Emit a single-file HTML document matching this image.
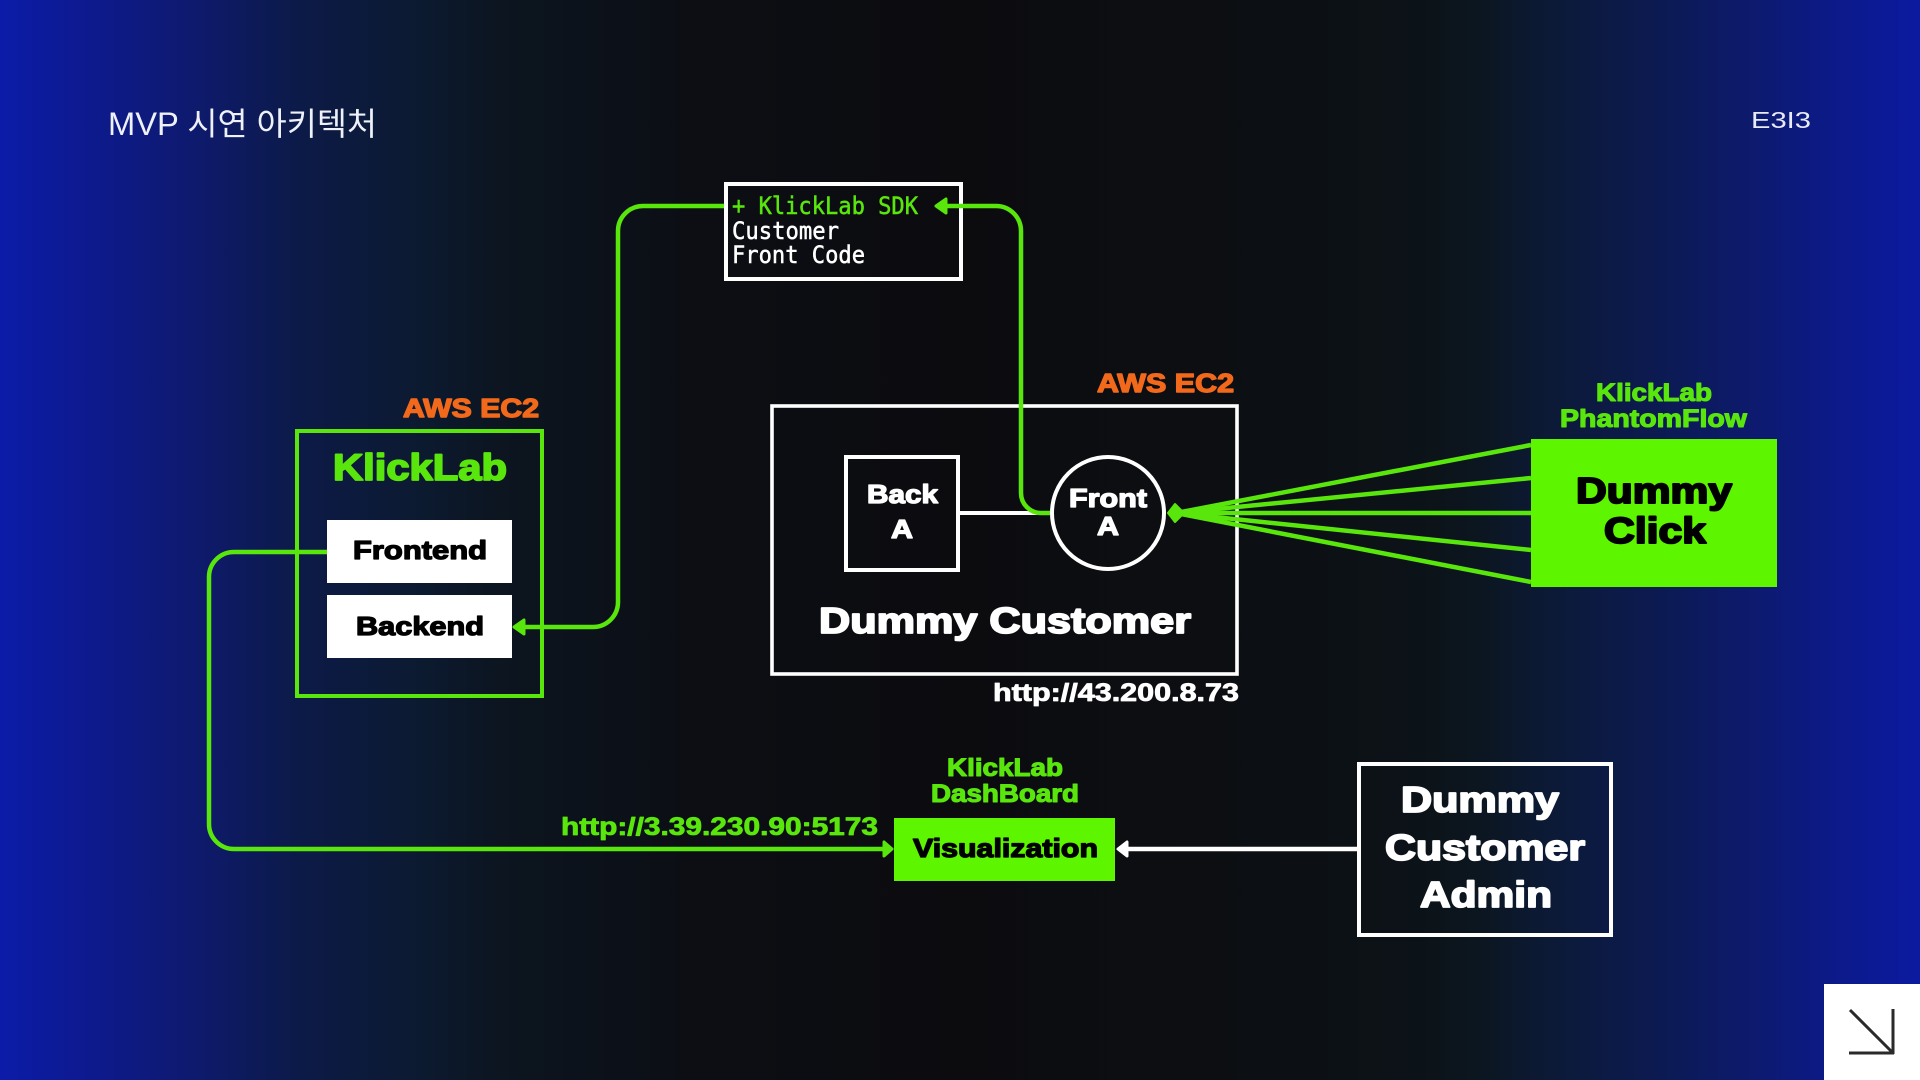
<!DOCTYPE html>
<html lang="ko">
<head>
<meta charset="utf-8">
<title>MVP 시연 아키텍처</title>
<style>
html,body{margin:0;padding:0;width:1920px;height:1080px;overflow:hidden;background:#0c0d10}
svg{display:block;position:absolute;left:0;top:0}
.b{font-family:"Liberation Sans","Noto Sans CJK KR",sans-serif;font-weight:700;stroke-linejoin:round}
.g{fill:#59e60c;stroke:#59e60c}
.w{fill:#fff;stroke:#fff}
.k{fill:#000;stroke:#000}
.o{fill:#f2691c;stroke:#f2691c}
.m{font-family:"DejaVu Sans Mono","Liberation Mono",monospace;font-size:24px;stroke-width:.5}
</style>
</head>
<body>
<svg width="1920" height="1080" viewBox="0 0 1920 1080" xmlns="http://www.w3.org/2000/svg">
<defs>
<linearGradient id="bg" x1="0" y1="0" x2="1" y2="0">
<stop offset="0" stop-color="#0c1ca8"/>
<stop offset="0.05" stop-color="#0d1a8c"/>
<stop offset="0.1" stop-color="#0e1a6e"/>
<stop offset="0.156" stop-color="#0c1a48"/>
<stop offset="0.22" stop-color="#0c1a30"/>
<stop offset="0.26" stop-color="#0c1520"/>
<stop offset="0.36" stop-color="#0c0e14"/>
<stop offset="0.5" stop-color="#0c0c0f"/>
<stop offset="0.66" stop-color="#0c0f13"/>
<stop offset="0.74" stop-color="#0c1318"/>
<stop offset="0.77" stop-color="#0c1620"/>
<stop offset="0.81" stop-color="#0c1a38"/>
<stop offset="0.86" stop-color="#0c1a50"/>
<stop offset="0.91" stop-color="#0d1a6c"/>
<stop offset="0.96" stop-color="#0c1a8c"/>
<stop offset="1" stop-color="#0c1aa0"/>
</linearGradient>
</defs>
<rect width="1920" height="1080" fill="url(#bg)"/>

<text x="108" y="135" font-family="'Liberation Sans','Noto Sans CJK KR',sans-serif" font-size="32" fill="#eef0fa" textLength="269" lengthAdjust="spacingAndGlyphs">MVP 시연 아키텍처</text>
<text x="1751" y="128" font-family="'Liberation Sans',sans-serif" font-size="23" fill="#e8eaf6" textLength="60" lengthAdjust="spacingAndGlyphs">E3I3</text>

<!-- corner -->
<rect x="1824" y="984" width="96" height="96" fill="#fff"/>
<path d="M1850 1010L1892 1052M1893 1009V1054M1849 1053H1894" stroke="#2a2a2a" stroke-width="3" fill="none"/>

<!-- KlickLab box -->
<rect x="297" y="431" width="245" height="265" fill="none" stroke="#59e60c" stroke-width="4"/>
<rect x="327" y="520" width="185" height="63" fill="#fff"/>
<rect x="327" y="595" width="185" height="63" fill="#fff"/>

<!-- connectors green -->
<g fill="none" stroke="#59e60c" stroke-width="4.5">
<path d="M327 552H234A25 25 0 0 0 209 577V824A25 25 0 0 0 234 849H886"/>
<path d="M520 627H593A25 25 0 0 0 618 602V231A25 25 0 0 1 643 206H724"/>
</g>
<path d="M514 627L524 620V634Z" fill="#59e60c" stroke="#59e60c" stroke-width="3" stroke-linejoin="round"/>
<path d="M892 849L884 842V856Z" fill="#59e60c" stroke="#59e60c" stroke-width="3" stroke-linejoin="round"/>

<!-- SDK box -->
<rect x="726" y="184" width="235" height="95" fill="none" stroke="#fff" stroke-width="4"/>
<text x="732" y="214" class="m" fill="#59e60c" stroke="#59e60c" textLength="186" lengthAdjust="spacingAndGlyphs">+ KlickLab SDK</text>
<text x="732" y="239" class="m" fill="#fff" stroke="#fff" textLength="107" lengthAdjust="spacingAndGlyphs">Customer</text>
<text x="732" y="263" class="m" fill="#fff" stroke="#fff" textLength="133" lengthAdjust="spacingAndGlyphs">Front Code</text>

<!-- Dummy customer -->
<rect x="772" y="406" width="465" height="268" fill="none" stroke="#fff" stroke-width="3.6"/>
<rect x="846" y="457" width="112" height="113" fill="none" stroke="#fff" stroke-width="4"/>
<circle cx="1108" cy="513" r="56" fill="none" stroke="#fff" stroke-width="4"/>
<path d="M960 513H1040" stroke="#fff" stroke-width="4" fill="none"/>
<path d="M1050 513H1041A20 20 0 0 1 1021 493V231A25 25 0 0 0 996 206H942" fill="none" stroke="#59e60c" stroke-width="4.5"/>
<path d="M936 206L946 199V213Z" fill="#59e60c" stroke="#59e60c" stroke-width="3" stroke-linejoin="round"/>

<!-- Fan -->
<g stroke="#59e60c" stroke-width="4.5" fill="none">
<path d="M1176 513L1531 445"/>
<path d="M1176 513L1531 478"/>
<path d="M1176 513H1531"/>
<path d="M1176 513L1531 550"/>
<path d="M1176 513L1531 582"/>
</g>
<path d="M1168 513L1175 504L1184 513L1175 522Z" fill="#59e60c" stroke="#59e60c" stroke-width="2" stroke-linejoin="round"/>
<rect x="1531" y="439" width="246" height="148" fill="#5df500"/>

<!-- Dashboard -->
<rect x="894" y="818" width="221" height="63" fill="#5df500"/>
<rect x="1359" y="764" width="252" height="171" fill="none" stroke="#fff" stroke-width="4"/>
<path d="M1357 849H1124" stroke="#fff" stroke-width="4.5" fill="none"/>
<path d="M1118 849L1127 842V856Z" fill="#fff" stroke="#fff" stroke-width="3" stroke-linejoin="round"/>

<!-- Labels -->
<text class="b o" stroke-width="1.4" x="403" y="417" font-size="26" textLength="136" lengthAdjust="spacingAndGlyphs">AWS EC2</text>
<text class="b o" stroke-width="1.4" x="1097" y="392" font-size="26" textLength="137" lengthAdjust="spacingAndGlyphs">AWS EC2</text>
<text class="b g" stroke-width="1.8" x="333" y="480" font-size="37" textLength="174" lengthAdjust="spacingAndGlyphs">KlickLab</text>
<text class="b k" stroke-width="1.3" x="353" y="559" font-size="26" textLength="134" lengthAdjust="spacingAndGlyphs">Frontend</text>
<text class="b k" stroke-width="1.3" x="356" y="635" font-size="26" textLength="128" lengthAdjust="spacingAndGlyphs">Backend</text>
<text class="b w" stroke-width="1.3" x="867" y="503" font-size="26" textLength="71" lengthAdjust="spacingAndGlyphs">Back</text>
<text class="b w" stroke-width="1.3" x="891" y="538" font-size="26" textLength="22" lengthAdjust="spacingAndGlyphs">A</text>
<text class="b w" stroke-width="1.3" x="1069" y="507" font-size="26" textLength="78" lengthAdjust="spacingAndGlyphs">Front</text>
<text class="b w" stroke-width="1.3" x="1097" y="535" font-size="26" textLength="22" lengthAdjust="spacingAndGlyphs">A</text>
<text class="b w" stroke-width="1.8" x="819" y="633" font-size="36" textLength="372" lengthAdjust="spacingAndGlyphs">Dummy Customer</text>
<text class="b w" stroke-width=".8" x="993" y="701" font-size="25" textLength="246" lengthAdjust="spacingAndGlyphs">http://43.200.8.73</text>
<text class="b g" stroke-width="1.1" x="1596" y="401" font-size="25" textLength="116" lengthAdjust="spacingAndGlyphs">KlickLab</text>
<text class="b g" stroke-width="1.1" x="1560" y="427" font-size="25" textLength="187" lengthAdjust="spacingAndGlyphs">PhantomFlow</text>
<text class="b k" stroke-width="2" x="1576" y="503" font-size="36" textLength="156" lengthAdjust="spacingAndGlyphs">Dummy</text>
<text class="b k" stroke-width="2" x="1604" y="543" font-size="36" textLength="102" lengthAdjust="spacingAndGlyphs">Click</text>
<text class="b g" stroke-width="1.1" x="947" y="776" font-size="25" textLength="116" lengthAdjust="spacingAndGlyphs">KlickLab</text>
<text class="b g" stroke-width="1.1" x="931" y="802" font-size="25" textLength="148" lengthAdjust="spacingAndGlyphs">DashBoard</text>
<text class="b g" stroke-width=".8" x="561" y="835" font-size="25" textLength="317" lengthAdjust="spacingAndGlyphs">http://3.39.230.90:5173</text>
<text class="b k" stroke-width="1.3" x="913" y="857" font-size="26" textLength="185" lengthAdjust="spacingAndGlyphs">Visualization</text>
<text class="b w" stroke-width="1.8" x="1401" y="812" font-size="36" textLength="158" lengthAdjust="spacingAndGlyphs">Dummy</text>
<text class="b w" stroke-width="1.8" x="1385" y="860" font-size="36" textLength="200" lengthAdjust="spacingAndGlyphs">Customer</text>
<text class="b w" stroke-width="1.8" x="1420" y="907" font-size="36" textLength="132" lengthAdjust="spacingAndGlyphs">Admin</text>
</svg>
</body>
</html>
